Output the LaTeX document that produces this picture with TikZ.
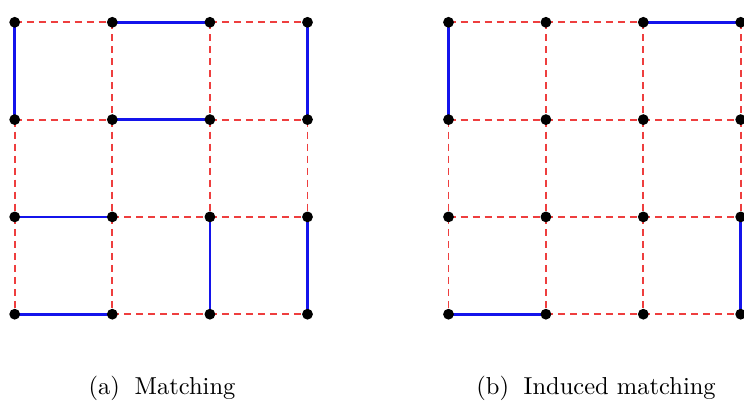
\documentclass[tikz,border=0pt]{standalone}
\usepackage{graphicx}
\definecolor{mred}{RGB}{238,62,62}
\definecolor{mblue}{RGB}{20,20,235}
\tikzset{
  vtx/.style={circle,fill=black,inner sep=0pt,minimum size=10.8pt},
  nonedge/.style={draw=mred,line width=1.9pt,dash pattern=on 7pt off 5pt},
  medge/.style={draw=mblue,line width=2.7pt},
  capt/.style={inner sep=0pt,anchor=base}
}
\begin{document}
\begin{tikzpicture}[x=1pt,y=-1pt]
\useasboundingbox (0,0) rectangle (744,409);
% coordinates
\foreach \i in {0,1,2,3}{
  \foreach \j in {0,1,2,3}{
    \coordinate (a-\i-\j) at ({14.7+97.6*\i},{22.3+97.3*\j});
    \coordinate (b-\i-\j) at ({448.5+97.4*\i},{22.3+97.3*\j});
  }
}
% dashed grid edges
\foreach \g in {a,b}{
  \foreach \i in {0,1,2}{
    \foreach \j in {0,1,2,3}{
      \draw[nonedge] (\g-\i-\j) -- (\g-\the\numexpr\i+1\relax-\j);
      \draw[nonedge] (\g-\j-\i) -- (\g-\j-\the\numexpr\i+1\relax);
    }
  }
}
% matching (a)
\draw[medge] (a-0-0) -- (a-0-1);
\draw[medge] (a-1-0) -- (a-2-0);
\draw[medge] (a-3-0) -- (a-3-1);
\draw[medge] (a-1-1) -- (a-2-1);
\draw[medge] (a-0-2) -- (a-1-2);
\draw[medge] (a-2-2) -- (a-2-3);
\draw[medge] (a-3-2) -- (a-3-3);
\draw[medge] (a-0-3) -- (a-1-3);
% induced matching (b)
\draw[medge] (b-0-0) -- (b-0-1);
\draw[medge] (b-2-0) -- (b-3-0);
\draw[medge] (b-3-2) -- (b-3-3);
\draw[medge] (b-0-3) -- (b-1-3);
% vertices
\foreach \g in {a,b}{
  \foreach \i in {0,1,2,3}{
    \foreach \j in {0,1,2,3}{
      \node[vtx] (\g-v-\i-\j) at (\g-\i-\j) {};
    }
  }
}
% captions
\node[capt] (capa) at (162,394.5) {\scalebox{2.45}{(a)\hspace{6pt}Matching}};
\node[capt] (capb) at (596,394.5) {\scalebox{2.45}{(b)\hspace{6pt}Induced matching}};
\end{tikzpicture}
\end{document}
